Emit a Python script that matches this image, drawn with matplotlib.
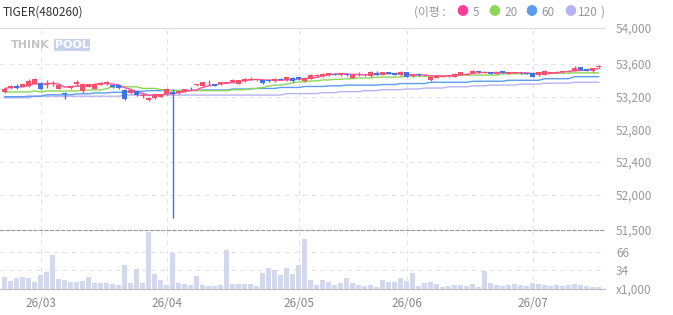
import matplotlib
matplotlib.use('Agg')
import matplotlib.pyplot as plt
import pandas as pd

plt.rcParams['font.family'] = ['Noto Sans CJK KR', 'DejaVu Sans']

# month labels and the trading-day index where each month starts
month_labels = ['26/03', '26/04', '26/05', '26/06', '26/07']
month_idx = [6, 27, 49, 67, 88]

opens = [53260, 53310, 53330, 53320, 53330, 53360, 53370, 53340, 53360, 53300,
         53250, 53310, 53350, 53270, 53320, 53300, 53345, 53370, 53340, 53340,
         53285, 53240, 53270, 53210, 53160, 53180, 53200, 53230, 53260, 53240,
         53260, 53300, 53340, 53330, 53350, 53350, 53350, 53370, 53380, 53360,
         53390, 53410, 53400, 53410, 53410, 53390, 53420, 53400, 53430, 53440,
         53390, 53420, 53450, 53450, 53460, 53480, 53460, 53480, 53430, 53460,
         53470, 53450, 53490, 53470, 53500, 53490, 53460, 53500, 53450, 53480,
         53460, 53400, 53430, 53440, 53450, 53440, 53470, 53470, 53490, 53510,
         53490, 53500, 53480, 53510, 53480, 53490, 53495, 53490, 53490, 53460,
         53470, 53490, 53495, 53500, 53510, 53520, 53560, 53540, 53510, 53560]
closes = [53300, 53330, 53310, 53350, 53390, 53420, 53290, 53350, 53370, 53340,
          53235, 53325, 53380, 53360, 53350, 53350, 53370, 53380, 53320, 53310,
          53170, 53280, 53215, 53225, 53190, 53225, 53230, 53300, 53230, 53265,
          53290, 53290, 53350, 53380, 53360, 53330, 53375, 53380, 53410, 53400,
          53420, 53420, 53415, 53370, 53390, 53420, 53410, 53440, 53390, 53420,
          53430, 53470, 53470, 53480, 53490, 53470, 53490, 53460, 53460, 53470,
          53460, 53500, 53470, 53500, 53480, 53470, 53500, 53440, 53460, 53460,
          53470, 53440, 53450, 53450, 53455, 53480, 53500, 53480, 53510, 53500,
          53500, 53480, 53495, 53490, 53500, 53500, 53485, 53480, 53440, 53500,
          53510, 53500, 53505, 53510, 53520, 53550, 53530, 53520, 53550, 53570]
highs = [53310, 53340, 53350, 53360, 53420, 53430, 53380, 53400, 53390, 53350,
         53260, 53335, 53410, 53365, 53360, 53355, 53380, 53390, 53350, 53345,
         53290, 53300, 53275, 53240, 53195, 53230, 53235, 53305, 53300, 53270,
         53295, 53320, 53360, 53385, 53400, 53355, 53380, 53385, 53415, 53405,
         53425, 53440, 53420, 53420, 53415, 53425, 53425, 53445, 53435, 53445,
         53435, 53475, 53475, 53485, 53495, 53485, 53495, 53485, 53465, 53500,
         53475, 53520, 53510, 53505, 53505, 53495, 53520, 53505, 53470, 53495,
         53480, 53445, 53460, 53455, 53465, 53485, 53505, 53495, 53530, 53515,
         53505, 53505, 53500, 53515, 53505, 53505, 53500, 53495, 53495, 53505,
         53530, 53505, 53510, 53515, 53525, 53570, 53565, 53545, 53555, 53590]
lows = [53250, 53300, 53290, 53315, 53320, 53350, 53285, 53310, 53330, 53295,
        53170, 53300, 53330, 53250, 53315, 53295, 53340, 53345, 53310, 53300,
        53165, 53235, 53210, 53190, 53150, 53175, 53195, 53225, 51715, 53235,
        53255, 53280, 53330, 53325, 53345, 53325, 53345, 53365, 53375, 53355,
        53385, 53405, 53395, 53360, 53385, 53385, 53405, 53395, 53385, 53410,
        53385, 53415, 53445, 53445, 53455, 53465, 53455, 53455, 53425, 53455,
        53455, 53445, 53465, 53465, 53475, 53465, 53455, 53435, 53445, 53450,
        53455, 53395, 53425, 53435, 53445, 53435, 53465, 53465, 53485, 53495,
        53485, 53475, 53475, 53485, 53475, 53485, 53480, 53475, 53435, 53455,
        53465, 53485, 53490, 53495, 53505, 53515, 53525, 53515, 53505, 53550]

# volume in thousands
volumes = [22, 14, 20, 22, 20, 13, 25, 31, 61, 18, 16, 13, 13, 14, 22, 11, 11, 11, 9, 7,
           43, 11, 36, 11, 103, 27, 16, 7, 65, 11, 9, 7, 23, 7, 5, 5, 7, 70, 9, 9,
           9, 9, 5, 29, 38, 34, 25, 38, 27, 43, 90, 16, 7, 16, 13, 7, 11, 20, 11, 7,
           5, 7, 4, 16, 13, 13, 20, 14, 29, 5, 11, 13, 9, 4, 5, 7, 7, 5, 9, 4,
           32, 11, 7, 5, 7, 9, 7, 5, 11, 9, 7, 5, 7, 5, 7, 9, 7, 5, 4, 4]

ma20 = [53258] * 5 + [53270, 53258] + [53270] * 6 + [53282] * 4 + [53300] + [53321] * 5 + \
       [53301] * 3 + [53286] * 2 + [53274] * 10 + [53285] * 3 + [53301] * 2 + [53313, 53330, 53342, 53342,
       53354, 53369, 53381, 53381] + [53393] * 2 + [53405] * 2 + [53413] * 2 + [53420] * 2 + \
       [53429] * 3 + [53440] * 5 + [53452] * 9 + [53464] * 7 + [53480] * 5 + [53488] * 7 + [53492] * 5
ma60 = [53200] * 4 + [53206] * 3 + [53223] * 5 + [53235] * 3 + [53246] * 3 + [53254] * 3 + \
       [53266] * 3 + [53274] * 3 + [53277] * 6 + [53282] * 5 + [53294] * 4 + [53301] * 4 + \
       [53313] * 4 + [53325] * 4 + [53333] * 3 + [53342] * 6 + [53349] * 3 + [53361] * 5 + \
       [53377] * 7 + [53389] * 6 + [53401] * 6 + [53420] * 5 + [53445] * 5
ma120 = [53187] * 5 + [53206] * 15 + [53220] * 27 + [53238] * 6 + [53250] * 3 + [53262] * 4 + \
        [53274] * 3 + [53286] * 4 + [53294] * 3 + [53306] * 4 + [53321] * 4 + [53333] * 3 + \
        [53342] * 5 + [53354] * 4 + [53365] * 5 + [53377] * 5

n = len(closes)
x = list(range(n))
ma5 = pd.Series(closes).rolling(5, min_periods=1).mean()

up_c = '#f5506a'
down_c = '#3f74e6'
grid_c = '#e4e4e4'
txt_c = '#999999'

W, H = 673, 315
fig = plt.figure(figsize=(W / 100, H / 100), dpi=100)
ax = fig.add_axes([0, 1 - 230 / H, 605 / W, 202 / H])
axv = fig.add_axes([0, 1 - 289 / H, 605 / W, 59 / H], sharex=ax)

# price panel
for xi, o, c, h, l in zip(x, opens, closes, highs, lows):
    col = up_c if c >= o else down_c
    ax.vlines(xi, l, h, color=col, lw=1, zorder=4)
    ax.bar(xi, max(abs(c - o), 10), bottom=min(o, c), width=0.75, color=col, zorder=4)

ax.plot(x, ma120, color='#b6b4f0', lw=1, zorder=3)
ax.plot(x, ma60, color='#5b9df0', lw=1, zorder=3)
ax.plot(x, ma20, color='#8cd65a', lw=1, zorder=3)
ax.plot(x, ma5, color='#ff4fa0', lw=1, zorder=3)

y_bottom, y_top = 51568, 54041
price_ticks = [y_bottom, 52000, 52400, 52800, 53200, 53600, y_top]
price_labels = ['51,500', '52,000', '52,400', '52,800', '53,200', '53,600', '54,000']
ax.set_ylim(y_bottom, y_top)
ax.set_xlim(-0.78, 100.05)
ax.yaxis.tick_right()
ax.set_yticks(price_ticks)
ax.set_yticklabels(price_labels)
ax.tick_params(axis='y', length=0, pad=8, labelsize=8.5, labelcolor=txt_c)
ax.tick_params(axis='x', length=0, labelbottom=False)
for t in price_ticks[1:-1]:
    ax.axhline(t, color=grid_c, lw=0.8, ls=(0, (4, 4)), zorder=1)
for m in month_idx:
    ax.axvline(m, color=grid_c, lw=0.8, ls=(0, (4, 4)), zorder=1)
for s in ['left', 'right', 'bottom']:
    ax.spines[s].set_visible(False)
ax.spines['top'].set_color('#dddddd')
ax.spines['top'].set_linewidth(0.8)

# volume panel
axv.bar(x, volumes, width=0.78, color='#d3d8ea', zorder=3)
axv.set_ylim(0, 106)
axv.yaxis.tick_right()
axv.set_yticks([0, 34, 66])
axv.set_yticklabels(['x1,000', '34', '66'])
axv.tick_params(axis='y', length=0, pad=8, labelsize=8.5, labelcolor=txt_c)
axv.set_xticks(month_idx)
axv.set_xticklabels(month_labels)
axv.tick_params(axis='x', length=0, pad=6, labelsize=8.5, labelcolor='#888888')
for t in [34, 66]:
    axv.axhline(t, color=grid_c, lw=0.8, ls=(0, (4, 4)), zorder=1)
for m in month_idx:
    axv.axvline(m, color=grid_c, lw=0.8, ls=(0, (4, 4)), zorder=1)
for s in ['left', 'right']:
    axv.spines[s].set_visible(False)
axv.spines['top'].set_color('#999999')
axv.spines['top'].set_linestyle((0, (3, 2)))
axv.spines['top'].set_linewidth(0.8)
axv.spines['bottom'].set_color('#bbbbbb')
axv.spines['bottom'].set_linewidth(0.8)


def fx(px):
    return px / W


def fy(py):
    return 1 - py / H


# header
fig.text(fx(3), fy(12), 'TIGER(480260)', fontsize=8.5, color='#333333', va='center')
fig.text(fx(414), fy(12), '(이평 :', fontsize=8.5, color=txt_c, va='center')
legend_items = [(462, '#ff3d98', 473, '5'), (494, '#8ed65a', 504, '20'),
                (531, '#5b9df0', 541, '60'), (570, '#b6b4f0', 578, '120')]
for dx, dcol, tx, lab in legend_items:
    fig.text(fx(dx), fy(12), '●', fontsize=8.5, color=dcol, va='center', ha='center')
    fig.text(fx(tx), fy(12), lab, fontsize=8.5, color=txt_c, va='center')
fig.text(fx(601), fy(12), ')', fontsize=8.5, color=txt_c, va='center')

# watermark
fig.text(fx(11), fy(45), 'THINK', fontsize=8, fontweight='bold', color='#c4c4c4',
         va='center', family='DejaVu Sans')
fig.text(fx(55), fy(45), 'POOL', fontsize=8, fontweight='bold', color='white', va='center',
         family='DejaVu Sans',
         bbox=dict(boxstyle='square,pad=0.1', facecolor='#c8d2ec', edgecolor='none'))

fig.savefig('out.png', dpi=100)
